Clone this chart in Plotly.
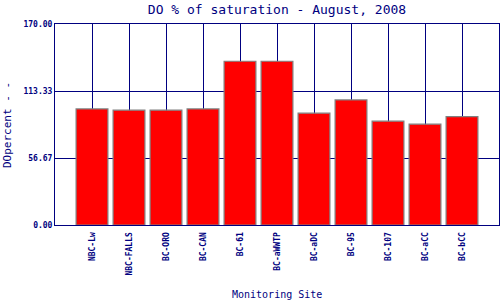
import plotly.graph_objects as go

sites = ["NBC-Lw", "NBC-FALLS", "BC-ORO", "BC-CAN", "BC-61", "BC-aWWTP",
         "BC-aDC", "BC-95", "BC-107", "BC-aCC", "BC-bCC"]
do_pct = [98.2, 97.1, 97.1, 98.2, 138.5, 138.5, 94.6, 105.8, 87.8, 85.3, 91.7]
y_ticks = [0.0, 56.67, 113.33, 170.0]
y_tick_labels = ["0.00", "56.67", "113.33", "170.00"]

NAVY = "#000080"
FONT = "DejaVu Sans Mono"

W, H = 500, 300
L, R, T, B = 55, 1, 24, 75
pw, ph = W - L - R, H - T - B

fig = go.Figure()
fig.add_trace(go.Bar(
    x=list(range(len(sites))), y=do_pct, width=0.86,
    marker=dict(color="#ff0000", line=dict(color="#808080", width=1.2)),
))

fig.update_layout(
    width=W, height=H,
    margin=dict(l=L, r=R, t=T, b=B),
    paper_bgcolor="white", plot_bgcolor="white",
    showlegend=False,
    font=dict(family=FONT, color=NAVY),
    title=dict(text="DO % of saturation - August, 2008", x=(L + pw / 2) / W, xanchor="center",
               y=1 - 9 / H, yanchor="middle", yref="container",
               font=dict(family=FONT, size=13, color=NAVY)),
    xaxis=dict(
        range=[-1, len(sites)], tickmode="array",
        tickvals=list(range(len(sites))), ticktext=sites, tickangle=-90,
        tickfont=dict(family=FONT, size=8, color=NAVY, weight="bold"),
        ticklabelstandoff=3,
        showgrid=True, gridcolor=NAVY, gridwidth=1,
        showline=True, linecolor=NAVY, linewidth=1, mirror=True,
        ticks="", ticklen=0, zeroline=False, fixedrange=True,
    ),
    yaxis=dict(
        range=[0, 170], tickmode="array", tickvals=y_ticks, ticktext=y_tick_labels,
        tickfont=dict(family=FONT, size=8, color=NAVY, weight="bold"),
        showgrid=True, gridcolor=NAVY, gridwidth=1,
        showline=True, linecolor=NAVY, linewidth=1, mirror=True,
        ticks="", zeroline=False, fixedrange=True,
    ),
    annotations=[
        dict(text="Monitoring Site", xref="paper", yref="paper",
             x=0.5, y=-(294 - T - ph) / ph, xanchor="center", yanchor="middle",
             showarrow=False, font=dict(family=FONT, size=10, color=NAVY)),
        dict(text="DOpercent - -", xref="paper", yref="paper",
             x=(7 - L) / pw, y=1 - (125 - T) / ph, xanchor="center", yanchor="middle",
             textangle=-90, showarrow=False, font=dict(family=FONT, size=11, color=NAVY)),
    ],
)

fig.write_html("out.html")
